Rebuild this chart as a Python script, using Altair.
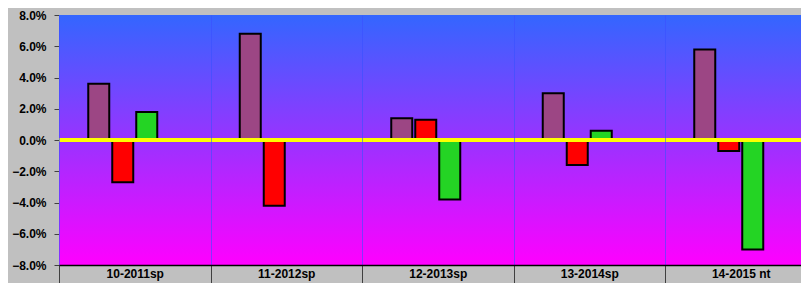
import altair as alt
import pandas as pd

categories = ["10-2011sp", "11-2012sp", "12-2013sp", "13-2014sp", "14-2015 nt"]
series = ["Series 1", "Series 2", "Series 3", "Series 4"]
s1 = [0.036, 0.068, 0.014, 0.030, 0.058]
s2 = [-0.027, -0.042, 0.013, -0.016, -0.007]
s3 = [0.018, None, -0.038, 0.006, -0.070]
y_ticks = [-0.08, -0.06, -0.04, -0.02, 0.0, 0.02, 0.04, 0.06, 0.08]
series_colors = ["#9c4684", "#ff0000", "#24d424", "#999999"]
title_text = "5th Grade"

rows = []
for name, vals in zip(series[:3], [s1, s2, s3]):
    for c, v in zip(categories, vals):
        if v is not None:
            rows.append({"cat": c, "series": name, "v": v})
df = pd.DataFrame(rows)

W, H = 742, 250
XR = 757.5
FONT = "Liberation Sans"
offset_domain = ["_pre"] + series + ["_post"]

y_axis = alt.Axis(title=None, values=y_ticks, format=".1%", labelFont=FONT,
                  labelFontSize=12, labelFontWeight="bold", labelColor="black",
                  tickSize=5, tickColor="#404040", labelPadding=8, labelOverlap=False,
                  domainColor="#808080", grid=False)
y_scale = alt.Scale(domain=[-0.08, 0.08], nice=False, zero=False)

bg = alt.Chart(pd.DataFrame({"a": [0]})).mark_rect(
    color=alt.Gradient(
        gradient="linear",
        stops=[alt.GradientStop(color="#3366ff", offset=0),
               alt.GradientStop(color="#ff00ff", offset=1)],
        x1=0, x2=0, y1=0, y2=1,
    )
).encode(x=alt.value(0), x2=alt.value(XR), y=alt.value(0), y2=alt.value(H))

bars = alt.Chart(df).mark_bar(stroke="black", strokeWidth=2).encode(
    x=alt.X("cat:N",
            scale=alt.Scale(domain=categories, range=[0, XR], paddingInner=0, paddingOuter=0),
            axis=alt.Axis(title=None, tickBand="extent", tickSize=18, tickColor="#404040",
                          labelPadding=-15, labelFont=FONT, labelFontSize=12,
                          labelFontWeight="bold", labelColor="black", labelAngle=0,
                          domainColor="black", domainWidth=1.5,
                          grid=True, gridColor="#3a50ff", gridOpacity=0.6, zindex=1)),
    xOffset=alt.XOffset("series:N",
                        scale=alt.Scale(domain=offset_domain, paddingInner=0.125, paddingOuter=0.21875)),
    y=alt.Y("v:Q", scale=y_scale, axis=y_axis),
    color=alt.Color("series:N", scale=alt.Scale(domain=series, range=series_colors), legend=None),
)

zero = alt.Chart(pd.DataFrame({"v": [0.0]})).mark_rule(color="#ffff00", strokeWidth=4).encode(
    x=alt.value(0), x2=alt.value(XR),
    y=alt.Y("v:Q", scale=y_scale, axis=y_axis)
)

title = alt.Chart(pd.DataFrame({"t": [title_text]})).mark_text(
    font=FONT, fontSize=16, align="left", baseline="alphabetic", color="black"
).encode(x=alt.value(704), y=alt.value(-9), text="t:N")

chart = alt.layer(bg, bars, zero, title).properties(
    width=W, height=H,
    padding={"left": 51, "top": 7, "right": 0, "bottom": 18},
    autosize=alt.AutoSizeParams(type="none"),
    background="#c0c0c0",
).configure_view(stroke=None)

chart.save("out.html", embed_options={"renderer": "svg", "actions": False})
